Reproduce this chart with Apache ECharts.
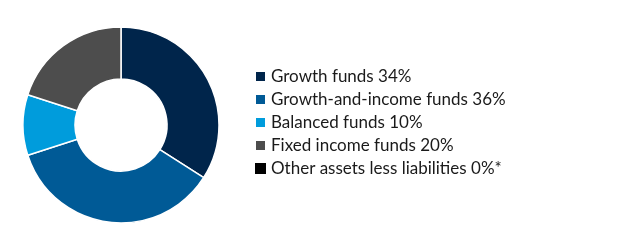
<!DOCTYPE html>
<html><head><meta charset="utf-8">
<script src="https://cdn.jsdelivr.net/npm/echarts@6/dist/echarts.min.js"></script>
<style>html,body{margin:0;padding:0;background:#fff}#c{width:625px;height:248px}</style>
</head><body><div id="c"></div>
<script>
var categories = ["Growth funds", "Growth-and-income funds", "Balanced funds", "Fixed income funds", "Other assets less liabilities"];
var values = [34, 36, 10, 20, 0];
var suffixes = ["", "", "", "", "*"];
var colors = ["#00254B", "#005A96", "#009CDC", "#4D4D4D", "#000000"];

var data = categories.map(function(n, i){
  return {name: n, value: values[i], itemStyle: {color: colors[i], borderWidth: values[i] === 0 ? 0 : 1.5}};
});
var labelMap = {};
categories.forEach(function(n, i){ labelMap[n] = n + " " + values[i] + "%" + suffixes[i]; });

var chart = echarts.init(document.getElementById('c'), null, {renderer: 'canvas'});
chart.setOption({
  animation: false,
  legend: {
    orient: 'vertical', left: 249, top: 63,
    itemWidth: 11, itemHeight: 11, itemGap: 6,
    icon: 'rect',
    textStyle: {fontFamily: 'Lato', fontSize: 17, lineHeight: 17, color: '#1a1a1a', padding: [0,0,0,0]},
    formatter: function(n){ return labelMap[n]; },
    selectedMode: false
  },
  series: [{
    type: 'pie',
    center: [121, 125],
    radius: [46, 98],
    startAngle: 90,
    clockwise: true,
    label: {show: false},
    labelLine: {show: false},
    emphasis: {disabled: true},
    itemStyle: {borderColor: '#fff', borderWidth: 1.5},
    data: data
  }]
});
</script></body></html>
